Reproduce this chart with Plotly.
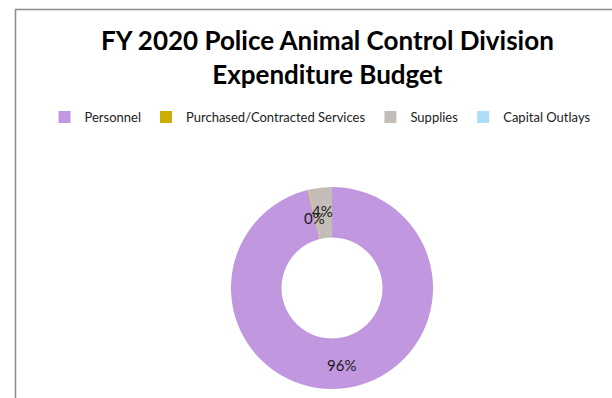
import math
import plotly.graph_objects as go

# FY 2020 expenditure budget shares by category (percent of total)
categories = ["Personnel", "Purchased/Contracted Services", "Supplies", "Capital Outlays"]
values = [96.1, 0.1, 3.8, 0.0]
colors = ["#C197DF", "#CCAE00", "#C4BDB7", "#AEDDF9"]

W, H = 612, 398

# donut geometry in pixels
CX, CY, R_OUT = 332, 288, 101
HOLE = 0.5
R_LABEL = 78
# tiny slices get their label nudged inward so neighbours don't sit on one line
TINY_SHIFT = -6

fig = go.Figure(
    go.Pie(
        labels=categories,
        values=values,
        marker=dict(colors=colors, line=dict(width=0)),
        hole=HOLE,
        sort=False,
        direction="clockwise",
        rotation=0,
        textinfo="none",
        domain=dict(x=[(CX - R_OUT) / W, (CX + R_OUT) / W],
                    y=[(H - CY - R_OUT) / H, (H - CY + R_OUT) / H]),
        showlegend=True,
        hoverinfo="label+percent",
    )
)

# percentage data labels at the middle of each slice (zero slices unlabeled)
total = sum(values)
start = 0.0
annotations = []
for cat, v in zip(categories, values):
    frac = v / total
    if v > 0:
        mid = (start + frac / 2) * 2 * math.pi
        r = R_LABEL + (TINY_SHIFT if frac < 0.01 else 0)
        px = CX + r * math.sin(mid)
        py = CY - r * math.cos(mid)
        annotations.append(dict(
            x=px / W, y=1 - py / H, xref="paper", yref="paper",
            text=f"{round(frac * 100)}%", showarrow=False,
            font=dict(family="Lato", size=15, color="#1a1a1a"),
            xanchor="center", yanchor="middle",
        ))
    start += frac

# chart title
annotations.append(dict(
    x=327 / W, y=1 - 57 / H, xref="paper", yref="paper",
    text="<b>FY 2020 Police Animal Control Division<br>Expenditure Budget</b>",
    showarrow=False, align="center",
    font=dict(family="Lato", size=26, color="black"),
    xanchor="center", yanchor="middle",
))

fig.update_layout(
    width=W,
    height=H,
    margin=dict(l=0, r=0, t=0, b=0),
    paper_bgcolor="white",
    plot_bgcolor="white",
    annotations=annotations,
    legend=dict(
        orientation="h",
        x=320 / W,
        xanchor="center",
        y=1 - 117 / H,
        yanchor="middle",
        font=dict(family="Lato", size=13, color="#222"),
        traceorder="normal",
    ),
    shapes=[
        dict(type="line", xref="paper", yref="paper", x0=15 / W, x1=1.0, y0=1 - 9.5 / H, y1=1 - 9.5 / H,
             line=dict(color="#8c8c8c", width=1.5)),
        dict(type="line", xref="paper", yref="paper", x0=15.5 / W, x1=15.5 / W, y0=0, y1=1 - 9 / H,
             line=dict(color="#8c8c8c", width=1.5)),
    ],
)

fig.write_html("out.html")
